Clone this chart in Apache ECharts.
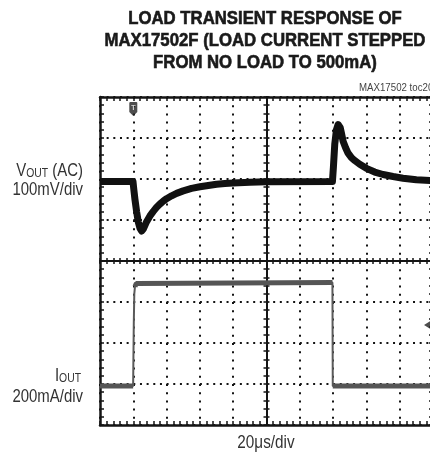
<!DOCTYPE html>
<html><head><meta charset="utf-8">
<script src="https://cdn.jsdelivr.net/npm/echarts@6/dist/echarts.min.js"></script>
<style>html,body{margin:0;padding:0;background:#fff}#c{width:430px;height:461px}</style>
</head><body><div id="c"></div>
<script>
// ---- chart content ----
const titleLines = ['LOAD TRANSIENT RESPONSE OF', 'MAX17502F (LOAD CURRENT STEPPED', 'FROM NO LOAD TO 500mA)'];
const figureTag = 'MAX17502 toc20';
const voutLabel = ['VOUT (AC)', '100mV/div'];
const ioutLabel = ['IOUT', '200mA/div'];
const timeLabel = '20μs/div';

// time axis (μs): 10 divisions of 20 μs
const timeMin = 0, timeMax = 200, timeDiv = 20;
// VOUT axis (mV): 100 mV/div, 8 divisions
const voutMin = -600, voutMax = 200, voutDiv = 100;
// IOUT axis (mA): 200 mA/div, 8 divisions
const ioutMin = -200, ioutMax = 1400, ioutDiv = 200;

// VOUT trace (AC coupled), mV
const voutTimeUs = [0, 19.8, 20.3, 21, 22, 23, 24, 25, 26, 27, 28, 30, 32, 34, 36, 38, 40, 43, 46, 50, 55, 60, 65, 70, 75, 80, 90, 100, 139.6,
  140.2, 141, 142, 143, 143.6, 144.3, 145, 146, 147.5, 149, 151, 153, 156, 160, 165, 170, 176, 182, 190, 200];
const voutMv = [-6, -6, -25, -50, -80, -105, -120, -127, -122, -113, -104, -90, -79, -69, -61, -54, -48, -41, -35, -29, -23, -19, -16, -13, -11, -10, -8, -7, -6,
  30, 85, 120, 133, 134, 125, 112, 92, 76, 63, 52, 45, 36, 26, 17, 11, 6, 2, -2, -4];

// IOUT trace, mA
const ioutTimeUs = [0, 19.9, 20.3, 20.6, 21.0, 21.8, 23, 139.6, 139.8, 200];
const ioutMa = [-10, -10, 300, 440, 475, 490, 495, 495, -10, -10];

// scope markers
const triggerTimeUs = 20;
const triggerMarkerMv = 171;
const triggerLevelMa = 288;

// ---- build ----
const ink = '#141414';
const vPairs = voutTimeUs.map((t, i) => [t, voutMv[i]]);
const iPairs = ioutTimeUs.map((t, i) => [t, ioutMa[i]]);
const iThick = [];
iPairs.forEach((p, i) => {
  if (i > 0 && Math.abs(p[1] - iPairs[i - 1][1]) > 30) iThick.push([(p[0] + iPairs[i - 1][0]) / 2, '-']);
  iThick.push(p);
});

function axisBase(min, max, interval, extra) {
  return Object.assign({
    type: 'value', min: min, max: max, interval: interval,
    axisLine: { show: true, onZero: false, lineStyle: { color: ink, width: 2.5 } },
    axisTick: { show: true, inside: true, length: 4, lineStyle: { color: ink, width: 1.5 } },
    minorTick: { show: true, splitNumber: 5, length: 4, lineStyle: { color: ink, width: 1.5 } },
    axisLabel: { show: false },
    splitLine: { show: false },
    minorSplitLine: { show: false }
  }, extra);
}
function centerAxis(min, max, interval, extra, inside) {
  return axisBase(min, max, interval, Object.assign({
    axisLine: { show: true, onZero: false, lineStyle: { color: ink, width: 2 } },
    axisTick: { show: true, inside: inside, length: 3, lineStyle: { color: ink, width: 1.5 } },
    minorTick: { show: true, splitNumber: 5, length: 3, lineStyle: { color: ink, width: 1.5 } }
  }, extra));
}

const gridLeft = 100, gridTop = 97, gridW = 333, gridH = 328;
const titleFont = 'bold 18px "Liberation Sans", Arial, sans-serif';
const titleStyle = (txt) => ({ text: txt, font: titleFont, fill: '#1a1a1a', stroke: '#1a1a1a', lineWidth: 0.6, align: 'center', verticalAlign: 'middle' });

const option = {
  backgroundColor: '#ffffff',
  animation: false,
  grid: { left: gridLeft, top: gridTop, width: gridW, height: gridH, containLabel: false, outerBoundsMode: 'none' },
  xAxis: [
    axisBase(timeMin, timeMax, timeDiv, { position: 'bottom',
      splitLine: { show: true, lineStyle: { color: ink, width: 2, type: [2, 6.2] } } }),
    axisBase(timeMin, timeMax, timeDiv, { position: 'top' }),
    centerAxis(timeMin, timeMax, timeDiv, { position: 'bottom', offset: -gridH / 2 }, true),
    centerAxis(timeMin, timeMax, timeDiv, { position: 'bottom', offset: -gridH / 2 }, false)
  ],
  yAxis: [
    axisBase(voutMin, voutMax, voutDiv, { position: 'left',
      splitLine: { show: true, lineStyle: { color: ink, width: 2, type: [2, 4.66] } } }),
    axisBase(ioutMin, ioutMax, ioutDiv, { position: 'right' }),
    centerAxis(voutMin, voutMax, voutDiv, { position: 'left', offset: -gridW / 2 }, true),
    centerAxis(voutMin, voutMax, voutDiv, { position: 'left', offset: -gridW / 2 }, false)
  ],
  series: [
    { name: 'IOUT edge', type: 'line', xAxisIndex: 0, yAxisIndex: 1, data: iPairs, showSymbol: false,
      lineStyle: { color: '#5a5a5a', width: 2 }, z: 3 },
    { name: 'IOUT', type: 'line', xAxisIndex: 0, yAxisIndex: 1, data: iThick, showSymbol: false, connectNulls: false,
      lineStyle: { color: '#555555', width: 5 }, z: 4 },
    { name: 'VOUT', type: 'line', xAxisIndex: 0, yAxisIndex: 0, data: vPairs, showSymbol: false,
      lineStyle: { color: '#111111', width: 7, join: 'round' }, z: 5 },
    { name: 'trigger', type: 'scatter', xAxisIndex: 0, yAxisIndex: 0, data: [[triggerTimeUs, triggerMarkerMv]],
      symbol: 'path://M1,0 L7,0 Q8,0 8,1 L8,10 L4,14 L0,10 L0,1 Q0,0 1,0 Z', symbolSize: [8, 14],
      itemStyle: { color: '#222' }, z: 6,
      label: { show: true, formatter: 'T', position: 'inside', color: '#fff', fontSize: 7, fontWeight: 'bold', offset: [0, -1] } },
    { name: 'trigger level', type: 'scatter', xAxisIndex: 0, yAxisIndex: 1, data: [[timeMax, triggerLevelMa]],
      symbol: 'path://M0,5 L8,0 L8,3 L18,3 L18,7 L8,7 L8,10 Z', symbolSize: [18, 10],
      itemStyle: { color: '#222' }, z: 6 }
  ],
  graphic: [
    { type: 'text', x: 265, y: 19, scaleX: 0.93, silent: true, style: titleStyle(titleLines[0]) },
    { type: 'text', x: 265, y: 41, scaleX: 0.93, silent: true, style: titleStyle(titleLines[1]) },
    { type: 'text', x: 265, y: 63, scaleX: 0.93, silent: true, style: titleStyle(titleLines[2]) },
    { type: 'text', x: 359, y: 88, scaleX: 0.88, silent: true,
      style: { text: figureTag, font: '11px "Liberation Sans", Arial, sans-serif', fill: '#444', align: 'left', verticalAlign: 'middle' } },
    { type: 'text', x: 83, y: 171, scaleX: 0.83, silent: true,
      style: { text: '{b|V}{s|' + voutLabel[0].slice(1, 4) + '}{b|' + voutLabel[0].slice(4) + '}', align: 'right', verticalAlign: 'middle', fill: '#333',
        rich: { b: { fontSize: 18, fontFamily: '"Liberation Sans", Arial, sans-serif', fill: '#333', verticalAlign: 'bottom', lineHeight: 18 },
                s: { fontSize: 12.5, fontFamily: '"Liberation Sans", Arial, sans-serif', fill: '#333', verticalAlign: 'bottom', lineHeight: 15 } } } },
    { type: 'text', x: 83, y: 190, scaleX: 0.83, silent: true,
      style: { text: voutLabel[1], font: '18px "Liberation Sans", Arial, sans-serif', fill: '#333', align: 'right', verticalAlign: 'middle' } },
    { type: 'text', x: 81, y: 376, scaleX: 0.83, silent: true,
      style: { text: '{b|I}{s|' + ioutLabel[0].slice(1) + '}', align: 'right', verticalAlign: 'middle', fill: '#333',
        rich: { b: { fontSize: 18, fontFamily: '"Liberation Sans", Arial, sans-serif', fill: '#333', verticalAlign: 'bottom', lineHeight: 18 },
                s: { fontSize: 12.5, fontFamily: '"Liberation Sans", Arial, sans-serif', fill: '#333', verticalAlign: 'bottom', lineHeight: 15 } } } },
    { type: 'text', x: 83, y: 397, scaleX: 0.83, silent: true,
      style: { text: ioutLabel[1], font: '18px "Liberation Sans", Arial, sans-serif', fill: '#333', align: 'right', verticalAlign: 'middle' } },
    { type: 'text', x: 266, y: 443, scaleX: 0.85, silent: true,
      style: { text: timeLabel, font: '18px "Liberation Sans", Arial, sans-serif', fill: '#333', align: 'center', verticalAlign: 'middle' } }
  ]
};
const chart = echarts.init(document.getElementById('c'), null, { renderer: 'canvas' });
chart.setOption(option);
</script>
</body></html>
